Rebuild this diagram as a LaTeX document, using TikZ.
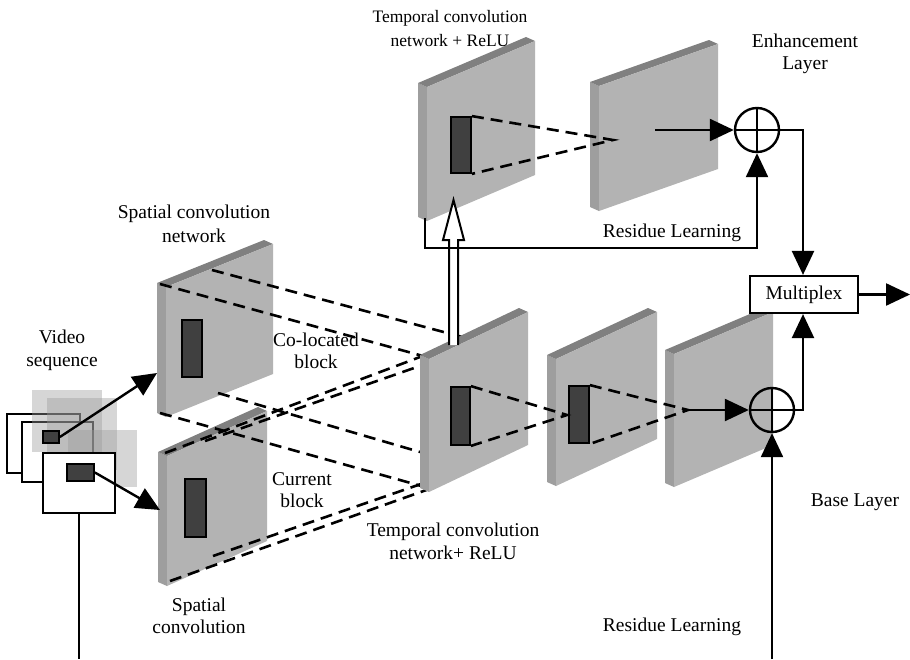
\documentclass[tikz,border=0pt]{standalone}
\usepackage{fontspec}
\setmainfont{Liberation Serif}
\usetikzlibrary{arrows.meta}
\definecolor{slabfront}{HTML}{B3B3B3}
\definecolor{slabside}{HTML}{9E9E9E}
\definecolor{slabtopc}{HTML}{808080}
\definecolor{blockc}{HTML}{404040}
\newcommand\slabdraw[5]{%
  \fill[slabside] (#1,#2) -- (#1+9,#2+4) -- (#1+9,#2+4+#5) -- (#1,#2+#5) -- cycle;
  \fill[slabtopc] (#1,#2) -- (#3-9,#4) -- (#3,#4+4) -- (#1+9,#2+4) -- cycle;
  \fill[slabfront] (#1+9,#2+4) -- (#3,#4+4) -- (#3,#4+4+#5) -- (#1+9,#2+4+#5) -- cycle;
}
\begin{document}
\begin{tikzpicture}[x=1pt,y=-1pt,
  lbl/.style={font=\fontsize{19.5}{22.5}\selectfont, align=center, inner sep=0pt},
  conn/.style={line width=2.4pt},
  arr/.style={conn, -{Triangle[length=24pt,width=22pt]}},
  dashln/.style={line width=2.6pt, dash pattern=on 12pt off 7pt},
  blk/.style={draw=black, line width=1.8pt, fill=blockc, inner sep=0pt},
  framebox/.style={draw=black, line width=2.4pt, fill=white, inner sep=0pt},
  haze/.style={fill=gray!80, opacity=0.4},
  sumnode/.style={circle, draw=black, line width=2.4pt, minimum size=44pt, inner sep=0pt,
    path picture={\draw[line width=2.4pt] (path picture bounding box.north) -- (path picture bounding box.south)
      (path picture bounding box.west) -- (path picture bounding box.east);}},
  dblarrow/.style={draw=black, line width=2pt, fill=white, line join=miter}]
\useasboundingbox (0,0) rectangle (910,659);

% ---------- video frames ----------
\node[framebox, minimum width=73pt, minimum height=59pt] (f1) at (43.5,443.5) {};
\node[framebox, minimum width=71pt, minimum height=60pt] (f2) at (57.5,452) {};
\fill[haze] (32,390) rectangle (102,452);
\fill[haze] (47,398) rectangle (117,470);
\fill[haze] (68,430) rectangle (137,487);
\node[framebox, minimum width=72pt, minimum height=60pt] (f3) at (79,483) {};
\node[blk, minimum width=16pt, minimum height=12pt] (v2) at (51,437) {};
\node[blk, minimum width=27pt, minimum height=17pt] (v3) at (80.5,472.5) {};

% ---------- spatial slabs ----------
\slabdraw{157}{283}{273}{240}{130}
\slabdraw{158}{452}{267}{407}{130}
\node[blk, minimum width=20pt, minimum height=57pt] (s1b) at (192,348.5) {};
\node[blk, minimum width=21pt, minimum height=58pt] (s2b) at (195.5,508) {};

\coordinate (s1in) at (157,373);
\coordinate (s2in) at (160,510);
\draw[arr] (v2.east) -- (s1in);
\draw[arr] (v3.east) -- (s2in);

% ---------- projection lines to T1 ----------
\coordinate (a1) at (160,284); \coordinate (b1) at (423,356);
\coordinate (a2) at (212,270); \coordinate (b2) at (466,338);
\coordinate (a3) at (160,413); \coordinate (b3) at (425,487);
\coordinate (a4) at (218,393); \coordinate (b4) at (420,452);
\coordinate (a5) at (165,453); \coordinate (b5) at (420,357);
\coordinate (a6) at (205,441); \coordinate (b6) at (437,360);
\coordinate (a7) at (170,581); \coordinate (b7) at (432,488);
\coordinate (a8) at (213,556); \coordinate (b8) at (421,484);
\foreach \i in {1,...,8} {\draw[dashln] (a\i) -- (b\i);}

% ---------- temporal slabs (base) ----------
\slabdraw{420}{355}{528}{308}{133}
\slabdraw{547}{355}{657}{308}{127}
\slabdraw{665}{350}{773}{308}{133}
\node[blk, minimum width=19pt, minimum height=58pt] (t1b) at (460.5,416) {};
\node[blk, minimum width=20pt, minimum height=57pt] (t2b) at (579,414.5) {};
\coordinate (c12) at (567,415);
\coordinate (c23) at (688,410);
\draw[dashln] (t1b.north east) -- (c12) -- (t1b.south east);
\draw[dashln] (t2b.north east) -- (c23) -- (t2b.south east);

% ---------- temporal slabs (enhancement) ----------
\slabdraw{418}{83}{535}{37}{134}
\slabdraw{590}{82}{718}{40}{125}
\node[blk, minimum width=20pt, minimum height=56pt] (tab) at (461,145) {};
\coordinate (cA) at (613,140);
\draw[dashln] (tab.north east) -- (cA) -- (tab.south east);

% ---------- double (open) arrow ----------
\coordinate (t1top) at (453.5,345);
\coordinate (tatip) at (453.5,200);
\draw[dblarrow] (t1top) ++(-4.5,0) -- ++(0,-105) -- ++(-6,0) -- (tatip) -- ++(10.5,40) -- ++(-6,0) -- ++(0,105);

% ---------- sums, multiplex ----------
\node[sumnode] (sumU) at (757,130) {};
\node[sumnode] (sumL) at (772,410) {};
\node[draw=black, line width=2.2pt, fill=white, minimum width=108pt, minimum height=37pt, inner sep=0pt,
  font=\fontsize{19.5}{22}\selectfont] (mux) at (804,294.5) {Multiplex};

\coordinate (tbs) at (655,130);
\draw[arr] (tbs) -- (sumU.west);
\draw[arr] (c23) -- (sumL.west);
\coordinate (tabl) at (425,218);
\draw[arr] (tabl) -- ++(0,30) -| (sumU.south);
\draw[arr] (sumU.east) -| ([xshift=-1pt]mux.north);
\draw[arr] (sumL.east) -| ([xshift=-1pt]mux.south);
\coordinate (outp) at (910,294.5);
\draw[arr] (mux.east) -- (outp);
\coordinate (bin) at (772,659);
\draw[arr] (bin) -- (sumL.south);
\coordinate (lout) at (79,659);
\draw[conn] (f3.south) -- (lout);

% ---------- labels ----------
\node[lbl, font=\fontsize{17.5}{24}\selectfont] (ltop) at (450,29) {Temporal convolution\\network + ReLU};
\node[lbl] (lenh) at (805,54) {Enhancement\\Layer};
\node[lbl, font=\fontsize{19.5}{24}\selectfont] (lsn) at (194,224) {Spatial convolution\\network};
\node[lbl, font=\fontsize{19.5}{23}\selectfont] (lvid) at (62,350) {Video\\sequence};
\node[lbl, font=\fontsize{19.5}{22}\selectfont] (lco) at (316,351) {Co-located\\block};
\node[lbl, font=\fontsize{19.5}{22}\selectfont] (lcur) at (302,490) {Current\\block};
\node[lbl, font=\fontsize{19.5}{23}\selectfont] (ltb) at (453,541) {Temporal convolution\\network+ ReLU};
\node[lbl, font=\fontsize{19.5}{22}\selectfont] (lsc) at (199,616) {Spatial\\convolution};
\node[lbl] (lbase) at (855,502) {Base Layer};
\node[lbl] (lrt) at (672,233) {Residue Learning};
\node[lbl] (lrb) at (672,627) {Residue Learning};
\end{tikzpicture}
\end{document}
